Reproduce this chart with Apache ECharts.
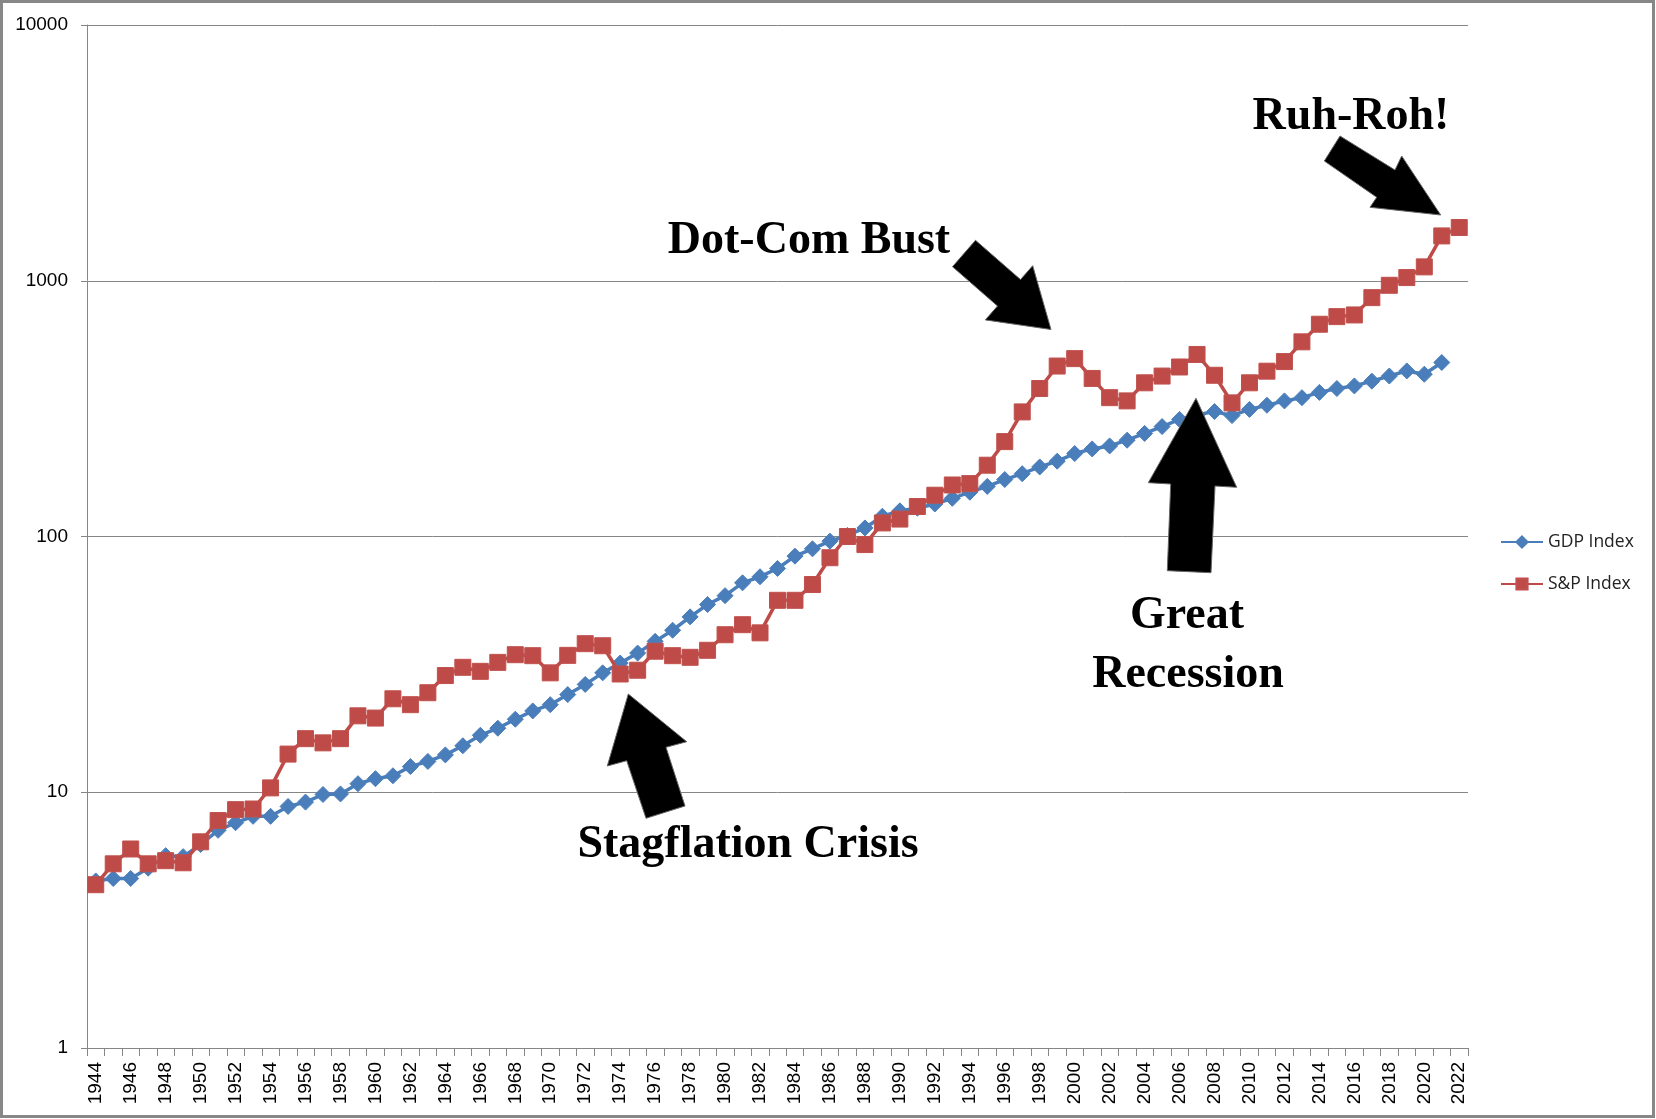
<!DOCTYPE html>
<html>
<head>
<meta charset="utf-8">
<script src="https://cdn.jsdelivr.net/npm/echarts@6/dist/echarts.min.js"></script>
<style>
html,body{margin:0;padding:0;background:#fff;}
#chart{width:1656px;height:1119px;}
</style>
</head>
<body>
<div id="chart"></div>
<script>
const years = ['1944','1945','1946','1947','1948','1949','1950','1951','1952','1953','1954','1955','1956','1957','1958','1959','1960','1961','1962','1963','1964','1965','1966','1967','1968','1969','1970','1971','1972','1973','1974','1975','1976','1977','1978','1979','1980','1981','1982','1983','1984','1985','1986','1987','1988','1989','1990','1991','1992','1993','1994','1995','1996','1997','1998','1999','2000','2001','2002','2003','2004','2005','2006','2007','2008','2009','2010','2011','2012','2013','2014','2015','2016','2017','2018','2019','2020','2021','2022'];

const gdpIndex = [4.5,4.6,4.6,5.05,5.65,5.6,6.25,7.1,7.6,8.05,8.05,8.8,9.15,9.8,9.85,10.8,11.3,11.6,12.6,13.2,14.0,15.2,16.7,17.8,19.3,20.8,22.0,24.1,26.4,29.3,32.0,35.0,38.9,43.0,48.5,54.2,58.7,65.9,69.6,75.0,83.8,89.5,95.9,101,108,120,126,129,134,141,149,157,167,176,187,197,211,220,226,238,253,269,287,299,308,297,314,326,339,349,366,379,388,405,424,444,431,479,null];

const spIndex = [4.35,5.25,6.0,5.25,5.4,5.3,6.4,7.75,8.55,8.6,10.4,14.1,16.2,15.6,16.2,19.9,19.5,23.2,22.0,24.5,28.6,30.8,29.7,32.2,34.5,34.2,29.3,34.3,38.1,37.4,29.0,30.0,35.6,34.2,33.7,35.9,41.3,45.2,42.0,56.3,56.3,64.9,82.6,100,93.0,113,117,131,145,159,161,190,235,307,379,464,496,415,349,339,399,424,460,515,427,333,399,443,483,577,676,724,735,859,960,1029,1133,1497,1615];

const yTicks = [1, 10, 100, 1000, 10000];

const annotations = [
  {text: 'Dot-Com Bust', x: 809, y: 241},
  {text: 'Ruh-Roh!', x: 1351, y: 117},
  {text: 'Stagflation Crisis', x: 748, y: 845},
  {text: 'Great', x: 1187, y: 616},
  {text: 'Recession', x: 1188, y: 675}
];

const arrows = [
  [[628.3,694],[686.7,741.7],[666,747.3],[685,806],[646,818.3],[626.7,760.7],[607.3,766]],
  [[1196,398.3],[1236.7,487.3],[1215,486],[1211,572.7],[1167.3,570.7],[1170.7,484],[1148.3,482.7]],
  [[975.5,240.3],[1020.5,279.6],[1032.7,265.7],[1051,329.5],[985.3,319.9],[997.5,306],[952.5,266.7]],
  [[1340,136],[1395,170],[1401.7,156],[1440.7,215],[1370,207.3],[1376.7,197.3],[1324.3,161]]
];

const chart = echarts.init(document.getElementById('chart'), null, {renderer: 'canvas'});

const graphics = [
  {type: 'rect', shape: {x: 1.5, y: 1.5, width: 1652, height: 1115}, style: {fill: 'none', stroke: '#878787', lineWidth: 3}, z: 200, silent: true}
];
arrows.forEach(pts => graphics.push({
  type: 'polygon', shape: {points: pts}, style: {fill: '#000', stroke: '#666', lineWidth: 1}, z: 100, silent: true
}));
annotations.forEach(a => graphics.push({
  type: 'text', x: a.x, y: a.y, z: 100, silent: true,
  style: {text: a.text, font: 'bold 46px "Liberation Serif"', fill: '#000', align: 'center', verticalAlign: 'middle'}
}));

chart.setOption({
  animation: false,
  backgroundColor: '#fff',
  grid: {left: 87, right: 188, top: 25, bottom: 71, containLabel: false},
  legend: {
    orient: 'vertical', left: 1500, top: 533, padding: 0, itemWidth: 42, itemHeight: 14, itemGap: 24,
    textStyle: {fontFamily: 'Open Sans', fontSize: 17.5, color: '#222'},
    data: ['GDP Index', 'S&P Index']
  },
  xAxis: {
    type: 'category', data: years, boundaryGap: true,
    axisLine: {lineStyle: {color: '#868686', width: 1}},
    axisTick: {show: true, interval: 0, length: 8, lineStyle: {color: '#868686'}},
    axisLabel: {interval: 1, rotate: 90, margin: 14, color: '#000', fontFamily: 'Liberation Sans', fontSize: 19},
    splitLine: {show: false}
  },
  yAxis: {
    type: 'log', logBase: 10, min: 1, max: 10000,
    axisLine: {show: true, lineStyle: {color: '#868686', width: 1}},
    axisTick: {show: true, length: 6, lineStyle: {color: '#868686'}},
    minorTick: {show: false},
    axisLabel: {margin: 19, color: '#000', fontFamily: 'Liberation Sans', fontSize: 19,
      formatter: v => yTicks.includes(Math.round(v)) ? String(Math.round(v)) : ''},
    splitLine: {show: true, lineStyle: {color: '#868686', width: 1}}
  },
  series: [
    {
      name: 'GDP Index', type: 'line', data: gdpIndex,
      symbol: 'diamond', symbolSize: 16, showSymbol: true, showAllSymbol: true,
      lineStyle: {color: '#4a7ebb', width: 3.5},
      itemStyle: {color: '#4a7ebb', borderColor: '#4a7ebb', borderWidth: 1},
      z: 2
    },
    {
      name: 'S&P Index', type: 'line', data: spIndex,
      symbol: 'rect', symbolSize: 16, showSymbol: true, showAllSymbol: true,
      lineStyle: {color: '#be4b48', width: 3.5},
      itemStyle: {color: '#be4b48', borderColor: '#c0504d', borderWidth: 1},
      z: 3
    }
  ],
  graphic: graphics
});
</script>
</body>
</html>
